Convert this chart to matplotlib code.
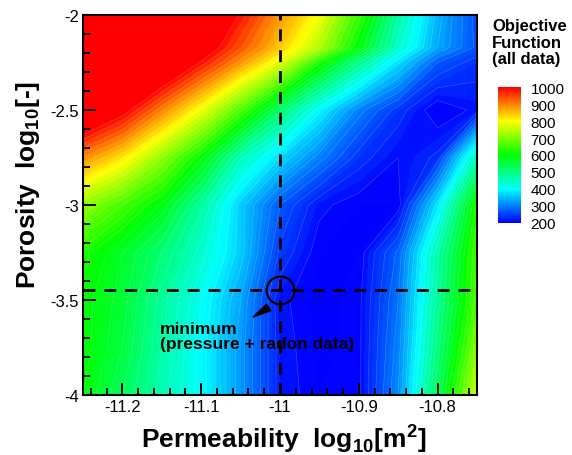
import matplotlib
matplotlib.use("Agg")
import matplotlib.pyplot as plt
from matplotlib.colors import LinearSegmentedColormap, Normalize
from matplotlib.cm import ScalarMappable
from matplotlib.ticker import FuncFormatter, MultipleLocator
import numpy as np

plt.rcParams["font.family"] = ["Liberation Sans", "DejaVu Sans"]
plt.rcParams["axes.unicode_minus"] = False
plt.rcParams["mathtext.fontset"] = "custom"
plt.rcParams["mathtext.rm"] = "Liberation Sans"
plt.rcParams["mathtext.bf"] = "Liberation Sans:bold"

# grid of the response surface
log_perm = [-11.25, -11.2, -11.15, -11.1, -11.05, -11.0, -10.95, -10.9, -10.85, -10.8, -10.75]
log_poro = [-4.0, -3.75, -3.5, -3.25, -3.0, -2.75, -2.5, -2.25, -2.17, -2.0]

# objective function, one row per porosity value (bottom to top)
objective = [
    [590, 530, 460, 400, 320, 220, 200, 205, 310, 530, 760],
    [600, 550, 470, 400, 320, 220, 195, 205, 300, 500, 700],
    [600, 560, 480, 410, 330, 215, 195, 205, 290, 480, 660],
    [620, 570, 510, 440, 360, 245, 200, 200, 275, 465, 650],
    [710, 650, 585, 475, 360, 270, 215, 200, 200, 380, 620],
    [890, 815, 710, 595, 455, 370, 300, 240, 210, 235, 460],
    [1100, 1015, 895, 785, 655, 515, 395, 300, 240, 195, 215],
    [1320, 1210, 1095, 985, 880, 775, 615, 490, 375, 270, 240],
    [1370, 1260, 1150, 1040, 935, 840, 735, 590, 440, 330, 265],
    [1420, 1310, 1200, 1090, 985, 880, 790, 640, 470, 340, 260],
]

# location of the minimum (pressure + radon data)
min_perm = -11.0
min_poro = -3.45

cbar_ticks = [200, 300, 400, 500, 600, 700, 800, 900, 1000]

cmap = LinearSegmentedColormap.from_list(
    "tecplot",
    [(0.0, "#0000ff"), (0.25, "#00ffff"), (0.5, "#00ff00"), (0.75, "#ffff00"), (1.0, "#ff0000")],
)
cmap.set_over("#ff0000")
cmap.set_under("#0000ff")

X, Y = np.meshgrid(log_perm, log_poro)
Z = np.array(objective, dtype=float)

fig = plt.figure(figsize=(5.72, 4.56), dpi=100, facecolor="white")
ax = fig.add_axes([0.1451, 0.1316, 0.6888, 0.8333])

cf = ax.contourf(X, Y, Z, levels=np.linspace(200, 1000, 81), cmap=cmap, extend="both")
ax.contour(X, Y, Z, levels=np.arange(210, 1000, 20), colors="white",
           linewidths=0.4, alpha=0.22)

dash = (0, (4.3, 3.2))
ax.axvline(min_perm, color="black", lw=2, ls=dash)
ax.axhline(min_poro, color="black", lw=2, ls=dash)
ax.plot([min_perm], [min_poro], marker="o", ms=20, mfc="none", mec="black", mew=1.6)

ax.annotate(
    "",
    xy=(-11.0341, -3.5895),
    xytext=(-11.0144, -3.5395),
    arrowprops=dict(arrowstyle="wedge,tail_width=0.55,shrink_factor=0.5",
                    color="black", shrinkA=0, shrinkB=0, mutation_scale=10),
)
ax.text(-11.152, -3.69, "minimum\n(pressure + radon data)", fontsize=12.5,
        fontweight="bold", ha="left", va="center", linespacing=1.0)

ax.set_xlim(-11.25, -10.75)
ax.set_ylim(-4, -2)
ax.xaxis.set_major_locator(MultipleLocator(0.1))
ax.xaxis.set_minor_locator(MultipleLocator(0.02))
ax.yaxis.set_major_locator(MultipleLocator(0.5))
ax.yaxis.set_minor_locator(MultipleLocator(0.1))
fmt = FuncFormatter(lambda v, _: f"{v:g}")
ax.xaxis.set_major_formatter(fmt)
ax.yaxis.set_major_formatter(fmt)
ax.tick_params(which="both", direction="in", top=False, right=False, width=1.4,
               labelsize=12, color="black")
ax.tick_params(which="major", length=9, pad=3)
ax.tick_params(which="minor", length=5)
for side in ax.spines.values():
    side.set_linewidth(1.5)

ax.set_xlabel(r"Permeability  log$_{\mathbf{10}}$[m$^{\mathbf{2}}$]", fontsize=19, fontweight="bold")
ax.xaxis.set_label_coords(0.51, -0.068)
ax.set_ylabel(r"Porosity  log$_{\mathbf{10}}$[-]", fontsize=19, fontweight="bold")
ax.yaxis.set_label_coords(-0.104, 0.555)

cax = fig.add_axes([0.8706, 0.5088, 0.0402, 0.2982])
sm = ScalarMappable(norm=Normalize(200, 1000), cmap=cmap)
cb = fig.colorbar(sm, cax=cax, ticks=cbar_ticks)
cb.outline.set_visible(False)
cax.tick_params(length=0, labelsize=11, pad=7)

fig.text(0.860, 0.958, "Objective\nFunction\n(all data)", fontsize=12,
         fontweight="bold", ha="left", va="top", linespacing=1.12)

fig.savefig("out.png", dpi=100)
